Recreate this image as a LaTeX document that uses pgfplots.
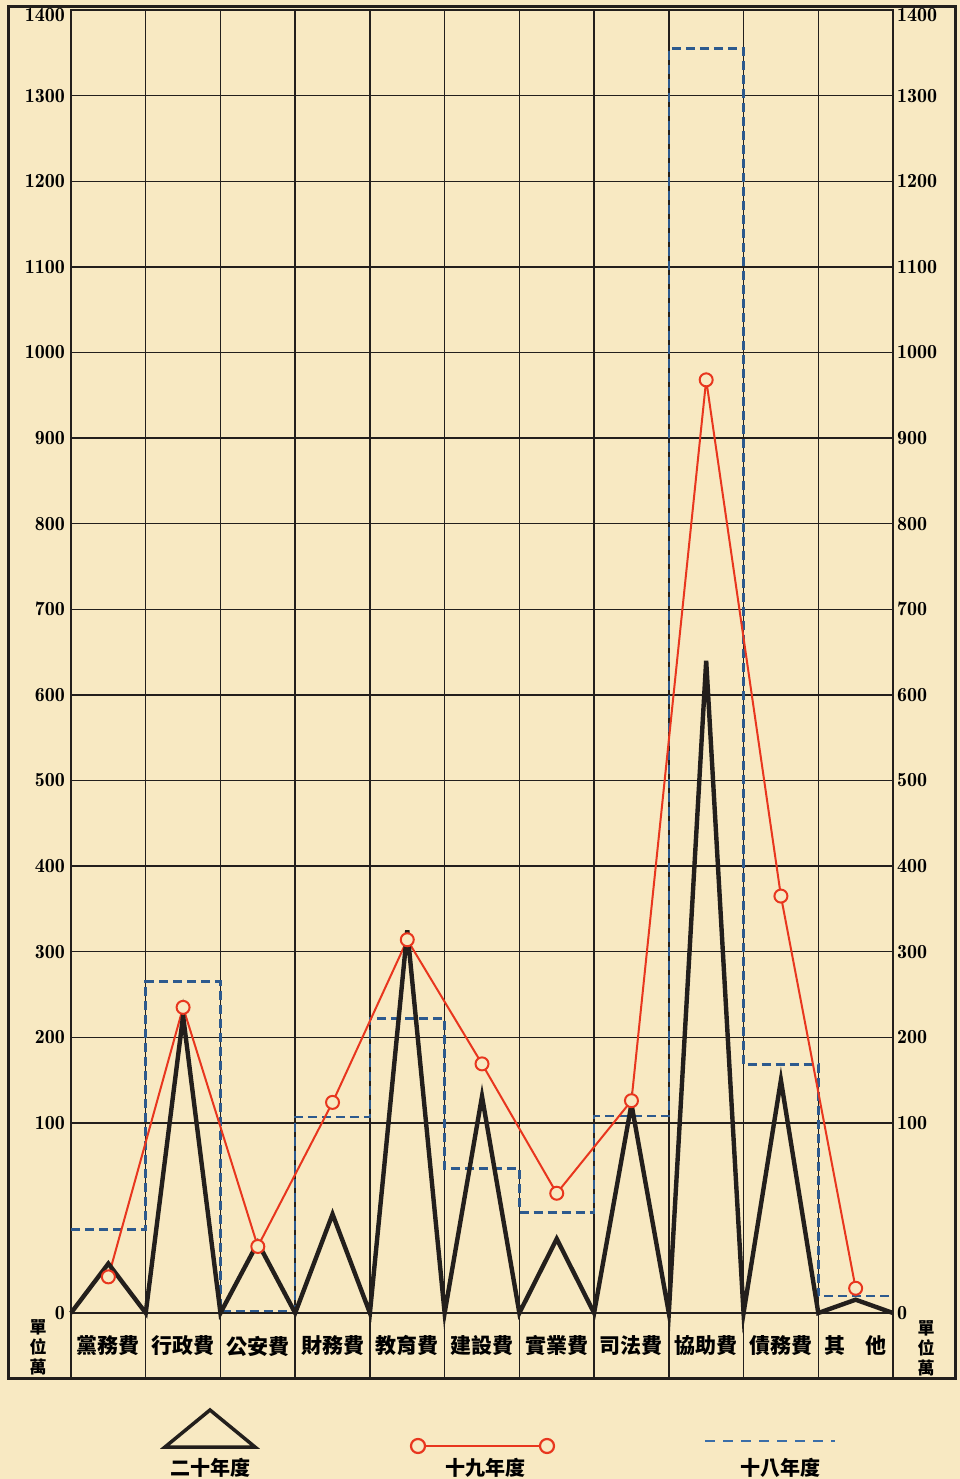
\documentclass[border=0pt]{standalone}
\usepackage{fontspec}
\usepackage{pgfplots}
\pgfplotsset{compat=1.18}
\usepackage{pgfplotstable}
\newfontfamily\cjk{Noto Sans CJK TC}
\newfontfamily\numfont{lmromandemi10-regular.otf}

\definecolor{paper}{HTML}{F8E9C2}
\definecolor{ink}{HTML}{231F1C}
\definecolor{redline}{HTML}{E8361E}
\definecolor{blueline}{HTML}{2D5A8E}
\definecolor{bluelegend}{HTML}{3A6EA8}

% 二十年度: triangles on each category
\pgfplotstableread{
x    v
0.0  0
0.5  26
1.0  0
1.5  225
2.0  0
2.5  37
3.0  0
3.5  52
4.0  0
4.5  325
5.0  0
5.5  131
6.0  0
6.5  39
7.0  0
7.5  122
8.0  0
8.5  640
9.0  0
9.5  150
10.0 0
10.5 7
11.0 0
}\yeartwenty

% 十九年度
\pgfplotstableread{
x    v
0.5  19
1.5  235
2.5  35
3.5  124
4.5  314
5.5  169
6.5  63
7.5  126
8.5  968
9.5  365
10.5 13
}\yearnineteen

% 十八年度 (steps)
\pgfplotstableread{
x  v
0  44
1  265
2  1
3  107
4  222
5  76
6  53
7  108
8  1355
9  168
10 9
11 9
}\yeareighteen

\begin{document}
\begin{tikzpicture}
\fill[paper] (0pt,0pt) rectangle (960pt,1479pt);

\begin{axis}[
  at={(71pt,166pt)}, anchor=south west,
  scale only axis, width=822pt, height=1303pt,
  xmin=0, xmax=11, ymin=0, ymax=1400,
  y coord trafo/.code={\pgfmathparse{#1<=100 ? 2.22*#1 : 122+#1}},
  y coord inv trafo/.code={\pgfmathparse{#1<=222 ? #1/2.22 : #1-122}},
  axis line style={ink, line width=1.4pt},
  tick style={draw=none},
  xtick={0,1,...,11}, xticklabels={},
  xmajorgrids, ymajorgrids,
  grid style={ink, line width=1.4pt},
  ytick={0,100,...,1400},
  yticklabels={0,100,200,300,400,500,600,700,800,900,1000,1100,1200,1300,\raisebox{-11.5pt}[0pt][0pt]{1400}},
  yticklabel style={font=\numfont\fontsize{20}{20}\selectfont, inner sep=0pt, anchor=east, xshift=-6pt},
  xticklabel style={font=\cjk\bfseries\fontsize{21}{21}\selectfont, anchor=center, yshift=-33pt},
  extra x ticks={0.5,1.5,...,10.5},
  extra x tick labels={黨務費,行政費,公安費,財務費,教育費,建設費,實業費,司法費,協助費,債務費,其\hspace{20pt}他},
  extra x tick style={grid=none},
  extra y ticks={100},
  extra y tick labels={},
  extra y tick style={grid style={ink, line width=2.6pt}},
  clip=false,
  legend columns=3,
  legend style={at={(0,0)}, anchor=west, xshift=89pt, yshift=-155pt,
    draw=none, fill=none, inner sep=0pt, outer sep=0pt,
    column sep=0pt, row sep=0pt, cells={anchor=center},
    nodes={inner sep=0pt, text width=100pt, align=center,
      font=\cjk\bfseries\fontsize{20}{20}\selectfont}},
]
\addplot[forget plot, blueline, line width=2.5pt, dash pattern=on 9pt off 5pt, const plot]
  table[x=x, y=v] {\yeareighteen};
\addplot[forget plot, redline, line width=2pt, mark=*, mark size=6.5pt,
  mark options={fill=paper, draw=redline, line width=2pt}]
  table[x=x, y=v] {\yearnineteen};
\addplot[forget plot, ink, line width=4.4pt]
  table[x=x, y=v] {\yeartwenty};

\pgfplotsinvokeforeach{0,...,11}{
  \draw[ink, line width=1.4pt] (axis cs:#1,0) -- ++(0pt,-66pt);
}

\addlegendimage{legend image code/.code={
  \path[draw=none, fill=none] (0pt,0pt) -- (0pt,0pt);
  \draw[overlay, ink, line width=3.5pt, line join=miter] (5pt,21pt) -- (50pt,58pt) -- (95pt,21pt) -- cycle;}}
\addlegendentry{二十年度}
\addlegendimage{legend image code/.code={
  \path[draw=none, fill=none] (0pt,0pt) -- (175pt,0pt);
  \draw[overlay, redline, line width=2.2pt] (165pt,22pt) -- (280pt,22pt);
  \draw[overlay, redline, line width=2.2pt, fill=paper] (158pt,22pt) circle[radius=7pt] (287pt,22pt) circle[radius=7pt];}}
\addlegendentry{十九年度}
\addlegendimage{legend image code/.code={
  \path[draw=none, fill=none] (0pt,0pt) -- (195pt,0pt);
  \draw[overlay, bluelegend, line width=2.5pt, dash pattern=on 10pt off 8pt] (170pt,27pt) -- (300pt,27pt);}}
\addlegendentry{十八年度}
\end{axis}

% right-hand scale
\begin{axis}[
  at={(71pt,166pt)}, anchor=south west,
  scale only axis, width=822pt, height=1303pt,
  xmin=0, xmax=11, ymin=0, ymax=1400,
  y coord trafo/.code={\pgfmathparse{#1<=100 ? 2.22*#1 : 122+#1}},
  y coord inv trafo/.code={\pgfmathparse{#1<=222 ? #1/2.22 : #1-122}},
  hide x axis, axis y line*=right, axis line style={draw=none},
  tick style={draw=none},
  ytick={0,100,...,1400},
  yticklabels={0,100,200,300,400,500,600,700,800,900,1000,1100,1200,1300,\raisebox{-11.5pt}[0pt][0pt]{1400}},
  yticklabel style={font=\numfont\fontsize{20}{20}\selectfont, inner sep=0pt, anchor=west, xshift=4pt},
]
\end{axis}

\draw[ink, line width=3pt] (8pt,100pt) rectangle (955pt,1472pt);
\node[font=\cjk\bfseries\fontsize{17}{20}\selectfont, align=center, inner sep=0pt] at (38pt,132pt) {單\\位\\萬};
\node[font=\cjk\bfseries\fontsize{17}{20}\selectfont, align=center, inner sep=0pt] at (926pt,131pt) {單\\位\\萬};
\end{tikzpicture}
\end{document}
